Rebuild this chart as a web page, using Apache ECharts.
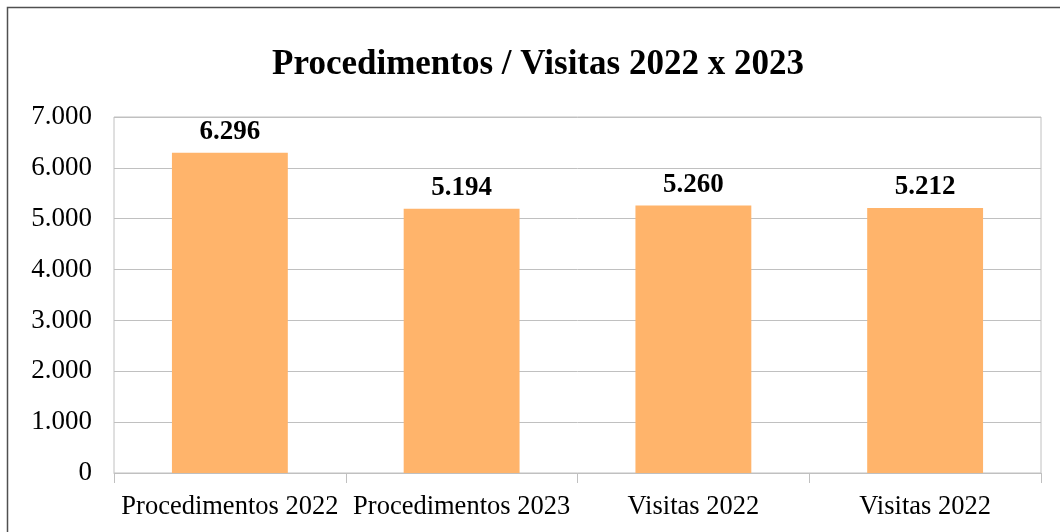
<!DOCTYPE html>
<html>
<head>
<meta charset="utf-8">
<script src="https://cdn.jsdelivr.net/npm/echarts@6/dist/echarts.min.js"></script>
<style>
  html, body { margin: 0; padding: 0; background: #fff; }
  #container { width: 1060px; height: 532px; }
</style>
</head>
<body>
<div id="container"></div>
<script>
// dados do gráfico
var categories = ['Procedimentos 2022', 'Procedimentos 2023', 'Visitas 2022', 'Visitas 2022'];
var values = [6296, 5194, 5260, 5212];
var titleText = 'Procedimentos / Visitas 2022 x 2023';

var FONT = '"Liberation Serif", "Times New Roman", serif';

// 1000 -> "1.000"
function fmt(v) {
    return String(v).replace(/\B(?=(\d{3})+(?!\d))/g, '.');
}

var dom = document.getElementById('container');
var myChart = echarts.init(dom);

var option = {
    animation: false,
    title: {
        text: titleText,
        left: 533,
        top: 42,
        textAlign: 'center',
        textStyle: { fontFamily: FONT, fontSize: 35, fontWeight: 'bold', color: '#000' }
    },
    graphic: [{
        type: 'rect',
        shape: { x: 7.5, y: 7.5, width: 1080, height: 560 },
        style: { fill: 'none', stroke: '#505050', lineWidth: 1.5 },
        silent: true
    }],
    grid: {
        left: 114,
        right: 19,
        top: 117,
        bottom: 59,
        show: true,
        borderColor: '#c0c0c0',
        borderWidth: 1
    },
    xAxis: {
        type: 'category',
        data: categories,
        axisLine: { lineStyle: { color: '#c0c0c0', width: 1 } },
        axisTick: { show: true, length: 10, lineStyle: { color: '#c0c0c0' } },
        axisLabel: { fontFamily: FONT, fontSize: 26.5, color: '#000', margin: 21, interval: 0 }
    },
    yAxis: {
        type: 'value',
        min: 0,
        max: 7000,
        interval: 1000,
        axisLine: { show: false },
        axisTick: { show: false },
        splitLine: { lineStyle: { color: '#c0c0c0', width: 1 } },
        axisLabel: {
            fontFamily: FONT, fontSize: 27, color: '#000', margin: 22,
            formatter: function (v) { return fmt(v); }
        }
    },
    series: [{
        type: 'bar',
        data: values,
        barWidth: '50%',
        itemStyle: { color: '#ffb46b' },
        label: {
            show: true,
            position: 'top',
            distance: 7,
            fontFamily: FONT,
            fontSize: 27,
            fontWeight: 'bold',
            color: '#000',
            formatter: function (p) { return fmt(p.value); }
        }
    }]
};

myChart.setOption(option);
</script>
</body>
</html>
